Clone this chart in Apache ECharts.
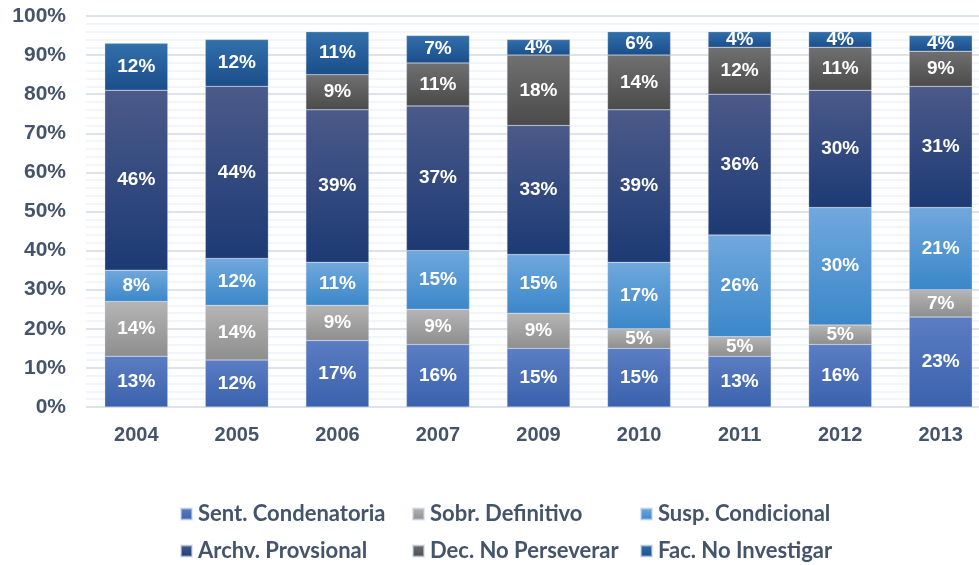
<!DOCTYPE html>
<html>
<head>
<meta charset="utf-8">
<script src="https://cdn.jsdelivr.net/npm/echarts@6/dist/echarts.min.js"></script>
<style>
  html, body { margin: 0; padding: 0; background: #ffffff; overflow: hidden; }
  #chart { width: 991px; height: 565px; }
</style>
</head>
<body>
<div id="chart"></div>
<script>
// Years on the category axis
const years = ['2004', '2005', '2006', '2007', '2009', '2010', '2011', '2012', '2013'];

// Share of cases (%) by outcome, stacked from bottom to top
const sentCondenatoria = [13, 12, 17, 16, 15, 15, 13, 16, 23];
const sobrDefinitivo   = [14, 14, 9, 9, 9, 5, 5, 5, 7];
const suspCondicional  = [8, 12, 11, 15, 15, 17, 26, 30, 21];
const archvProvsional  = [46, 44, 39, 37, 33, 39, 36, 30, 31];
const decNoPerseverar  = [null, null, 9, 11, 18, 14, 12, 11, 9];
const facNoInvestigar  = [12, 12, 11, 7, 4, 6, 4, 4, 4];

const seriesNames = ['Sent. Condenatoria', 'Sobr. Definitivo', 'Susp. Condicional',
                     'Archv. Provsional', 'Dec. No Perseverar', 'Fac. No Investigar'];
const seriesData = [sentCondenatoria, sobrDefinitivo, suspCondicional,
                    archvProvsional, decNoPerseverar, facNoInvestigar];

// Top / bottom colours of each segment's vertical gradient
const palette = [
  ['#5b7dc3', '#3a62ad'],
  ['#b5b5b5', '#8e8e8e'],
  ['#70a8dd', '#3b87c9'],
  ['#4b5a89', '#1c3a75'],
  ['#707070', '#4b4b4b'],
  ['#3270ab', '#1a4e8b']
];

const textColor = '#44546a';

const chart = echarts.init(document.getElementById('chart'));

const series = seriesNames.map((name, i) => ({
  name: name,
  type: 'bar',
  stack: 'total',
  barWidth: 63,
  data: seriesData[i],
  itemStyle: {
    color: new echarts.graphic.LinearGradient(0, 0, 0, 1, [
      { offset: 0, color: palette[i][0] },
      { offset: 1, color: palette[i][1] }
    ]),
    borderColor: 'rgba(200,212,230,0.6)',
    borderWidth: 0.5
  },
  label: {
    show: true,
    position: 'inside',
    color: '#ffffff',
    fontFamily: 'Liberation Sans, Arial, sans-serif',
    fontWeight: 'bold',
    fontSize: 19,
    formatter: p => (p.value == null ? '' : p.value + '%')
  },
  emphasis: { disabled: true }
}));

// Legend laid out as a 3 x 2 grid, one legend component per entry
const legendSpots = [
  [180, 503], [412, 503], [640, 503],
  [180, 540], [412, 540], [640, 540]
];
const legends = seriesNames.map((name, i) => ({
  data: [name],
  left: legendSpots[i][0],
  top: legendSpots[i][1],
  padding: 0,
  icon: 'rect',
  itemWidth: 11,
  itemHeight: 11,
  itemGap: 0,
  selectedMode: false,
  textStyle: {
    color: textColor,
    fontFamily: 'Lato, Open Sans, sans-serif',
    fontWeight: 'bold',
    fontSize: 22,
    padding: [0, 0, 0, 1]
  }
}));

chart.setOption({
  animation: false,
  backgroundColor: '#ffffff',
  grid: { left: 86, right: 0, top: 16, bottom: 158, containLabel: false },
  legend: legends,
  xAxis: {
    type: 'category',
    data: years,
    axisLine: { show: false },
    axisTick: { show: false },
    axisLabel: {
      color: textColor,
      fontFamily: 'Liberation Sans, Arial, sans-serif',
      fontWeight: 'bold',
      fontSize: 20,
      margin: 18
    }
  },
  yAxis: {
    type: 'value',
    min: 0,
    max: 100,
    interval: 10,
    axisLine: { show: false },
    axisTick: { show: false },
    axisLabel: {
      color: textColor,
      fontFamily: 'Liberation Sans, Arial, sans-serif',
      fontWeight: 'bold',
      fontSize: 21,
      margin: 20,
      formatter: '{value}%'
    },
    splitLine: { show: true, lineStyle: { color: '#dce3ed', width: 2 } },
    minorTick: { show: false, splitNumber: 5 },
    minorSplitLine: { show: true, lineStyle: { color: '#eef2f7', width: 1.5 } }
  },
  series: series
});
</script>
</body>
</html>
